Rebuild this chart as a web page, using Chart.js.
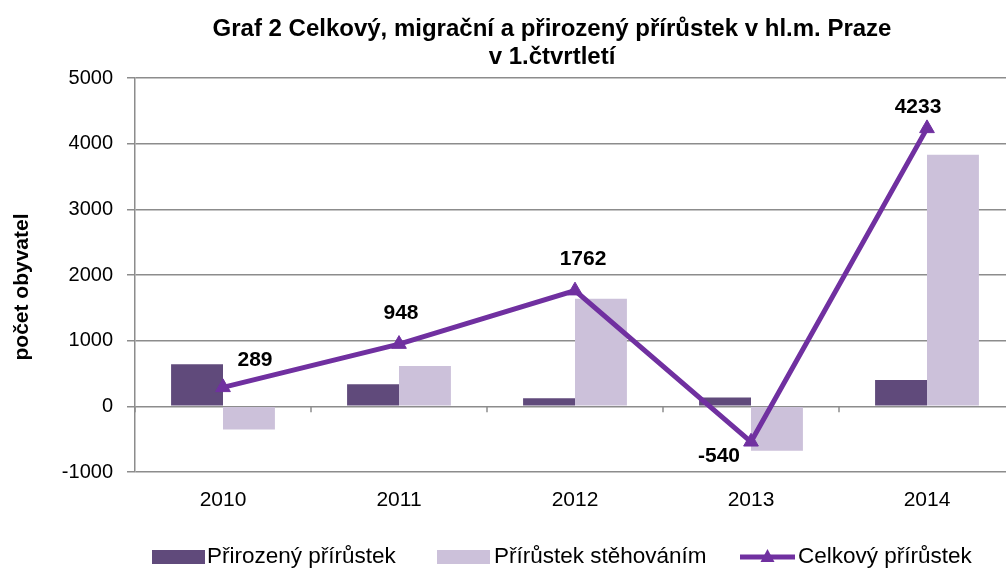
<!DOCTYPE html>
<html>
<head>
<meta charset="utf-8">
<script src="https://cdn.jsdelivr.net/npm/chart.js@4.4.1/dist/chart.umd.min.js"></script>
<style>
html,body{margin:0;padding:0;background:#fff;overflow:hidden;}
#wrap{width:1006px;height:570px;position:relative;overflow:hidden;}
canvas{display:block;}
</style>
</head>
<body>
<div id="wrap"><canvas id="c" width="1006" height="570"></canvas></div>
<script>
// ---- data ----
const categories = ['2010', '2011', '2012', '2013', '2014'];
const naturalIncrease = [640, 335, 125, 135, 400];
const migrationIncrease = [-351, 613, 1637, -675, 3833];
const totalIncrease = [289, 948, 1762, -540, 4233];
const yMin = -1000;
const yMax = 5000;
const yStep = 1000;
const seriesNames = ['Přirozený přírůstek', 'Přírůstek stěhováním', 'Celkový přírůstek'];
const titleLines = ['Graf 2 Celkový, migrační a přirozený přírůstek v hl.m. Praze', 'v 1.čtvrtletí'];
const yTitle = 'počet obyvatel';

// ---- styles ----
const FONT = '"Liberation Sans", Arial, sans-serif';
const cDark = '#604A7B';
const cLight = '#CCC1DA';
const cLine = '#7030A0';
const cGrid = '#8c8c8c';
const labelOffsets = [[32, -27], [2, -31], [8, -31], [-32, 14], [-9, -21]];
const plotOverflowRight = 9; // plot area runs past the right edge of the picture

const annot = {
  id: 'annot',
  afterLayout(chart) {
    const xs = chart.scales.x;
    const ca = chart.chartArea;
    const r = chart.width + plotOverflowRight;
    xs.right = r;
    xs.width = r - xs.left;
    ca.right = r;
    ca.width = r - ca.left;
    xs.configure();
  },
  afterDatasetsDraw(chart) {
    const ctx = chart.ctx;
    const xs = chart.scales.x, ys = chart.scales.y;
    const y0 = ys.getPixelForValue(0);
    const n = categories.length;
    ctx.save();
    ctx.strokeStyle = cGrid;
    ctx.lineWidth = 1.5;
    for (let i = 0; i <= n; i++) {
      const x = Math.round(xs.left + i * (xs.width / n));
      ctx.beginPath();
      ctx.moveTo(x, y0);
      ctx.lineTo(x, y0 + 6);
      ctx.stroke();
    }
    const meta = chart.getDatasetMeta(2);
    ctx.fillStyle = '#000';
    ctx.font = 'bold 21px ' + FONT;
    ctx.textAlign = 'center';
    ctx.textBaseline = 'middle';
    meta.data.forEach((pt, i) => {
      const o = labelOffsets[i];
      ctx.fillText(String(totalIncrease[i]), pt.x + o[0], pt.y + o[1]);
    });
    ctx.restore();
  },
  afterDraw(chart) {
    const ctx = chart.ctx;
    ctx.save();
    // title
    ctx.fillStyle = '#000';
    ctx.font = 'bold 24px ' + FONT;
    ctx.textAlign = 'center';
    ctx.textBaseline = 'middle';
    ctx.fillText(titleLines[0], 552, 29);
    ctx.fillText(titleLines[1], 552, 57);
    // y axis title
    ctx.save();
    ctx.translate(22, 287);
    ctx.rotate(-Math.PI / 2);
    ctx.font = 'bold 21px ' + FONT;
    ctx.fillText(yTitle, 0, 0);
    ctx.restore();
    // legend
    const ly = 557;
    ctx.font = '22.5px ' + FONT;
    ctx.textAlign = 'left';
    ctx.fillStyle = cDark;
    ctx.fillRect(152, ly - 7, 53, 14);
    ctx.fillStyle = cLight;
    ctx.fillRect(437, ly - 7, 53, 14);
    ctx.strokeStyle = cLine;
    ctx.lineWidth = 5;
    ctx.beginPath();
    ctx.moveTo(740, ly);
    ctx.lineTo(795, ly);
    ctx.stroke();
    ctx.fillStyle = cLine;
    ctx.beginPath();
    ctx.moveTo(767.5, ly - 8);
    ctx.lineTo(774.5, ly + 5);
    ctx.lineTo(760.5, ly + 5);
    ctx.closePath();
    ctx.fill();
    ctx.fillStyle = '#000';
    ctx.fillText(seriesNames[0], 207, ly);
    ctx.fillText(seriesNames[1], 494, ly);
    ctx.fillText(seriesNames[2], 798, ly);
    ctx.restore();
  }
};

new Chart(document.getElementById('c'), {
  type: 'bar',
  data: {
    labels: categories,
    datasets: [
      { type: 'bar', label: seriesNames[0], data: naturalIncrease, backgroundColor: cDark, order: 2,
        categoryPercentage: 0.59, barPercentage: 1.0 },
      { type: 'bar', label: seriesNames[1], data: migrationIncrease, backgroundColor: cLight, order: 2,
        categoryPercentage: 0.59, barPercentage: 1.0 },
      { type: 'line', label: seriesNames[2], data: totalIncrease, borderColor: cLine, backgroundColor: cLine,
        borderWidth: 5, pointStyle: 'triangle', pointRadius: 8.5, pointBackgroundColor: cLine,
        pointBorderColor: cLine, pointBorderWidth: 1, tension: 0, order: 0 }
    ]
  },
  options: {
    responsive: false,
    animation: false,
    devicePixelRatio: 1,
    layout: { padding: { top: 78, right: 0, bottom: 0, left: 0 } },
    plugins: {
      legend: { display: false },
      title: { display: false },
      tooltip: { enabled: false }
    },
    scales: {
      x: {
        grid: { display: false },
        border: { display: false },
        ticks: { color: '#000', font: { family: FONT, size: 21 }, padding: 8, maxRotation: 0 },
        afterFit(s) { s.height = 98; }
      },
      y: {
        min: yMin, max: yMax,
        ticks: { stepSize: yStep, color: '#000', font: { family: FONT, size: 20 }, padding: 14,
                 callback: (v) => String(v) },
        grid: { color: cGrid, lineWidth: 1.5, tickLength: 8, drawTicks: true },
        border: { display: true, color: cGrid, width: 1.5 },
        title: { display: false },
        afterFit(s) { s.width = 135; }
      }
    }
  },
  plugins: [annot]
});
</script>
</body>
</html>
